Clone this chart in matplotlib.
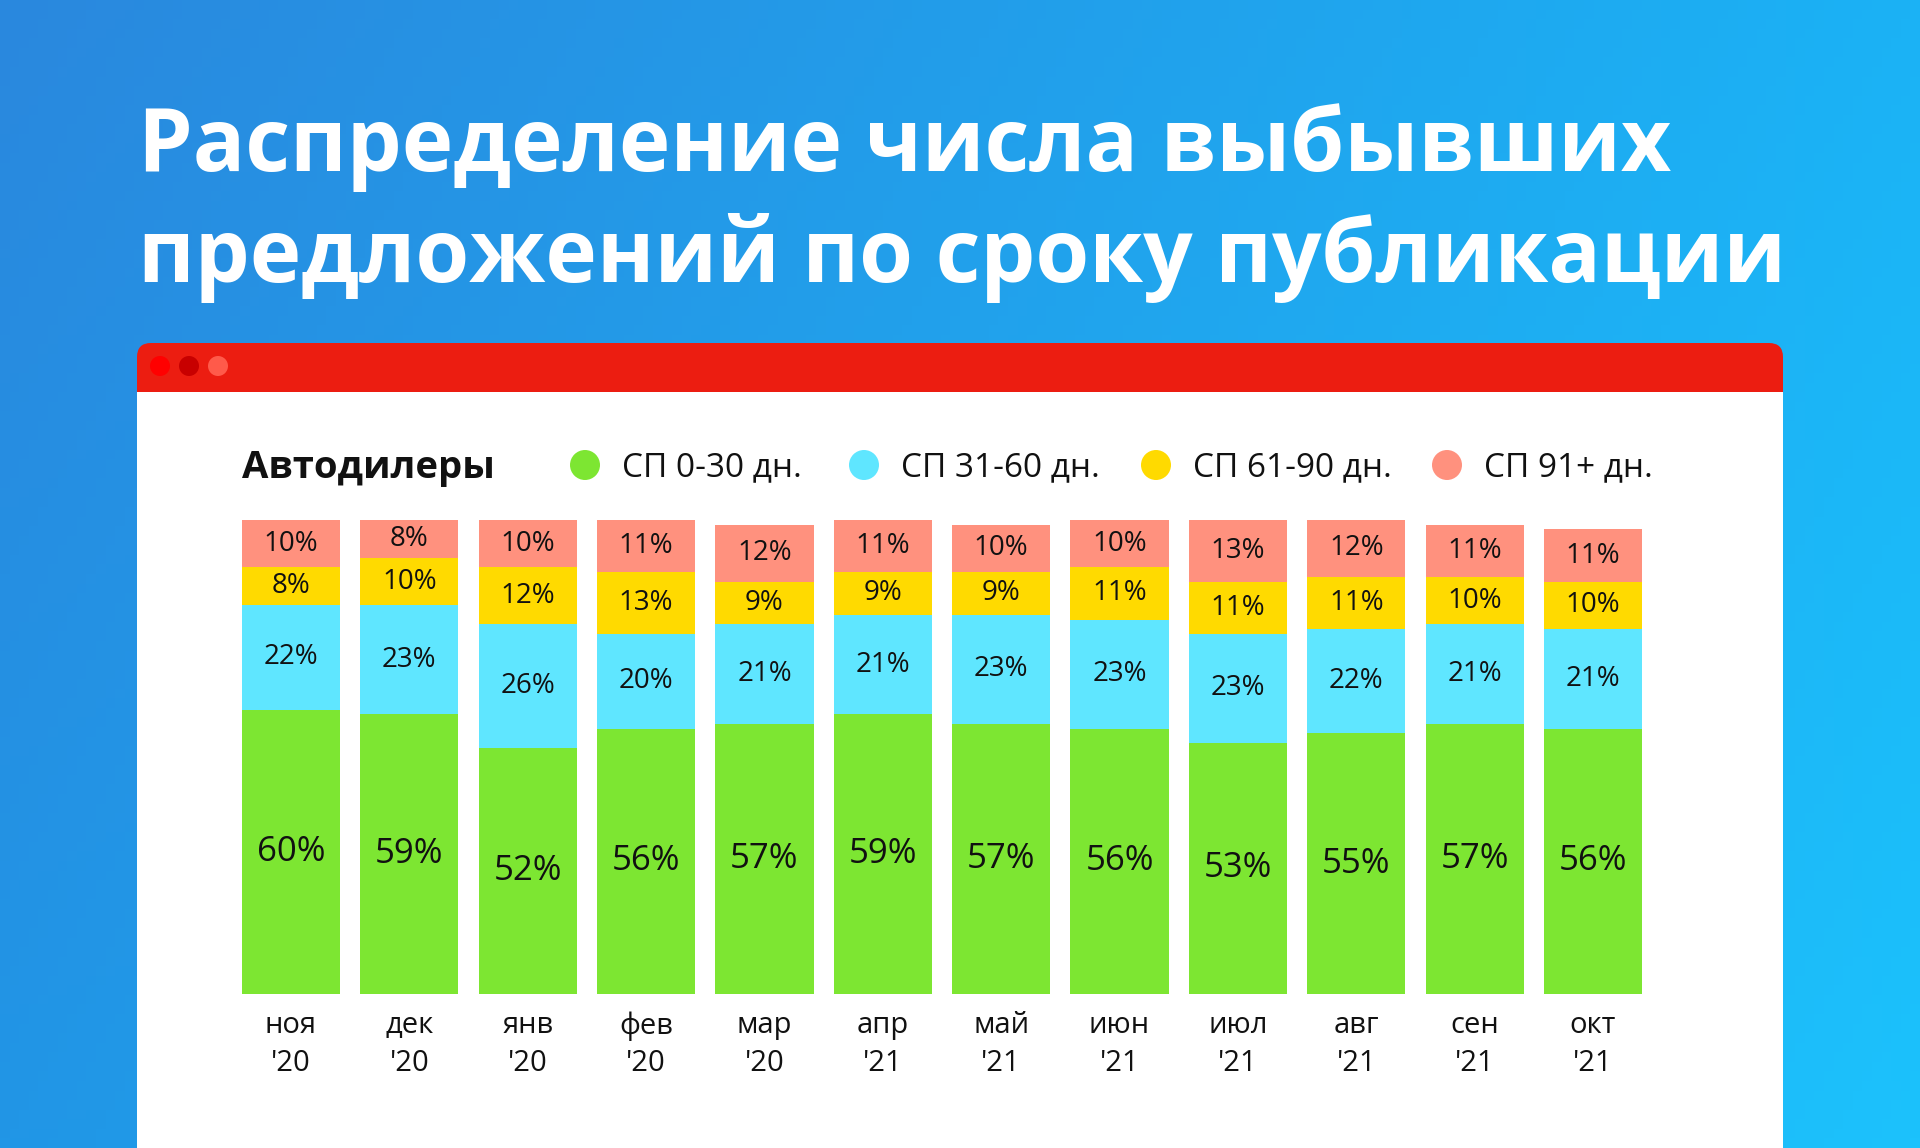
import numpy as np
import matplotlib
matplotlib.use("Agg")
import matplotlib.pyplot as plt
from matplotlib.patches import FancyBboxPatch, Rectangle, Circle

plt.rcParams['font.family'] = ['Open Sans', 'DejaVu Sans']

# data
months = ['ноя', 'дек', 'янв', 'фев', 'мар', 'апр', 'май', 'июн', 'июл', 'авг', 'сен', 'окт']
years = ["'20", "'20", "'20", "'20", "'20", "'21", "'21", "'21", "'21", "'21", "'21", "'21"]
sp_0_30 = [60, 59, 52, 56, 57, 59, 57, 56, 53, 55, 57, 56]
sp_31_60 = [22, 23, 26, 20, 21, 21, 23, 23, 23, 22, 21, 21]
sp_61_90 = [8, 10, 12, 13, 9, 9, 9, 11, 11, 11, 10, 10]
sp_91 = [10, 8, 10, 11, 12, 11, 10, 10, 13, 12, 11, 11]
series_names = ['СП 0-30 дн.', 'СП 31-60 дн.', 'СП 61-90 дн.', 'СП 91+ дн.']
colors = ['#7DE632', '#5FE6FF', '#FFDA00', '#FF917E']

W, H = 1920, 1148
fig = plt.figure(figsize=(W / 100, H / 100), dpi=100)

# background gradient + card, in pixel coordinates
bg = fig.add_axes([0, 0, 1, 1])
bg.set_xlim(0, W)
bg.set_ylim(H, 0)
bg.axis('off')

tl = np.array([42, 136, 222]) / 255
tr = np.array([27, 178, 245]) / 255
bl = np.array([33, 150, 230]) / 255
br = np.array([28, 194, 252]) / 255
gx = np.linspace(0, 1, 200)[None, :, None]
gy = np.linspace(0, 1, 120)[:, None, None]
grad = (1 - gy) * ((1 - gx) * tl + gx * tr) + gy * ((1 - gx) * bl + gx * br)
bg.imshow(grad, extent=[0, W, H, 0], aspect='auto', zorder=0)

cx0, cy0, cw = 137, 343, 1646
bg.add_patch(FancyBboxPatch((cx0, cy0), cw, 900, boxstyle='round,pad=0,rounding_size=14',
                            fc='#EC1D11', ec='none', zorder=1))
bg.add_patch(Rectangle((cx0, 392), cw, 800, fc='white', ec='none', zorder=2))
for x, c in zip([160, 189, 218], ['#FF0000', '#C80000', '#FF5A4A']):
    bg.add_patch(Circle((x, 366), 10, fc=c, ec='none', zorder=3))

# legend row
bg.text(242, 468, 'Автодилеры', fontsize=27.5, fontweight='bold', color='#111111',
        va='center', ha='left', zorder=4)
for mx, name, c in zip([585, 864, 1156, 1447], series_names, colors):
    bg.add_patch(Circle((mx, 465), 15, fc=c, ec='none', zorder=4))
    bg.text(mx + 37, 468, name, fontsize=24, color='#111111', va='center', ha='left', zorder=4)

# title
t1 = fig.text(138 / W, 1 - 171 / H, 'Распределение числа выбывших', color='white',
              fontsize=66, fontweight='bold', va='baseline', ha='left')
t2 = fig.text(138 / W, 1 - 282 / H, 'предложений по сроку публикации', color='white',
              fontsize=66, fontweight='bold', va='baseline', ha='left')
fig.canvas.draw()
w2 = t2.get_window_extent().width
scale = 1650 / w2
t1.set_fontsize(66 * scale)
t2.set_fontsize(66 * scale)

# bars
ax = fig.add_axes([231.8 / W, (H - 994) / H, 1420.4 / W, 474 / H])
ax.set_xlim(-0.5, 11.5)
ax.set_ylim(0, 100)
ax.axis('off')
ax.patch.set_alpha(0)

x = np.arange(len(months))
bottom = np.zeros(len(months))
for k, (vals, c) in enumerate(zip([sp_0_30, sp_31_60, sp_61_90, sp_91], colors)):
    vals = np.array(vals, dtype=float)
    ax.bar(x, vals, bottom=bottom, width=0.83, color=c, edgecolor='none', zorder=3)
    for i in range(len(x)):
        ax.text(x[i], bottom[i] + vals[i] / 2, f'{int(vals[i])}%',
                ha='center', va='center', color='#111111',
                fontsize=25 if k == 0 else 20, zorder=4)
    bottom += vals

for i in range(len(x)):
    ax.text(x[i], -0.067, months[i], transform=ax.get_xaxis_transform(),
            ha='center', va='center', fontsize=21, color='#111111')
    ax.text(x[i], -0.147, years[i], transform=ax.get_xaxis_transform(),
            ha='center', va='center', fontsize=21, color='#111111')

fig.savefig('out.png', dpi=100)
